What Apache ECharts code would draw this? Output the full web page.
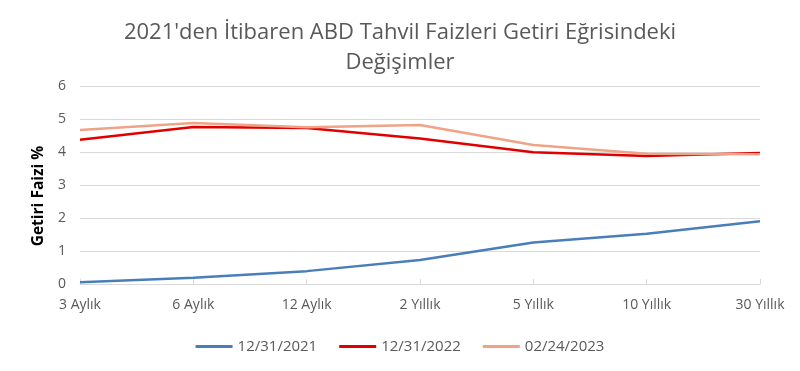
<!DOCTYPE html>
<html><head><meta charset="utf-8">
<script src="https://cdn.jsdelivr.net/npm/echarts@6/dist/echarts.min.js"></script>
<style>html,body{margin:0;padding:0;background:#fff}#c{width:800px;height:371px}</style>
</head><body><div id="c"></div>
<script>
var categories = ['3 Aylık','6 Aylık','12 Aylık','2 Yıllık','5 Yıllık','10 Yıllık','30 Yıllık'];
var s2021 = [0.05, 0.19, 0.39, 0.73, 1.26, 1.52, 1.90];
var s2022 = [4.37, 4.76, 4.73, 4.41, 3.99, 3.88, 3.97];
var s2023 = [4.67, 4.88, 4.75, 4.82, 4.21, 3.95, 3.93];
var seriesNames = ['12/31/2021','12/31/2022','02/24/2023'];
var yTicks = [0,1,2,3,4,5,6];

var FONT = '"Open Sans", "Noto Sans", sans-serif';
var chart = echarts.init(document.getElementById('c'));
function mk(name, data, color) {
  return {name:name, type:'line', data:data, symbol:'none', smooth:false,
    lineStyle:{color:color, width:2.5}, itemStyle:{color:color}};
}
chart.setOption({
  animation:false,
  title:{text:"2021'den İtibaren ABD Tahvil Faizleri Getiri Eğrisindeki\nDeğişimler", left:'center', top:13,
    textStyle:{fontFamily:FONT, fontSize:22, fontWeight:'normal', color:'#595959', lineHeight:30}},
  legend:{bottom:12, left:'center', itemWidth:37, itemHeight:3, itemGap:22, icon:'rect',
    textStyle:{fontFamily:FONT, fontSize:15, color:'#595959'}},
  grid:{left:80, right:40, top:86, bottom:87},
  xAxis:{type:'category', data:categories, boundaryGap:false,
    axisLine:{lineStyle:{color:'#d9d9d9', width:1}},
    axisTick:{show:true, inside:true, length:5, lineStyle:{color:'#d9d9d9'}},
    axisLabel:{fontFamily:FONT, fontSize:14, color:'#595959', margin:14}},
  yAxis:{type:'value', min:0, max:6, interval:1, name:'Getiri Faizi %', nameLocation:'middle', nameGap:33,
    nameTextStyle:{fontFamily:FONT, fontSize:15.5, fontWeight:'bold', color:'#000', padding:[0,22,0,0]},
    axisLine:{show:false}, axisTick:{show:false},
    axisLabel:{fontFamily:FONT, fontSize:14, color:'#595959', margin:14},
    splitLine:{lineStyle:{color:'#d9d9d9', width:1}}},
  series:[mk(seriesNames[0], s2021, '#4a7ebb'), mk(seriesNames[1], s2022, '#e10000'), mk(seriesNames[2], s2023, '#f0a386')]
});
</script></body></html>
